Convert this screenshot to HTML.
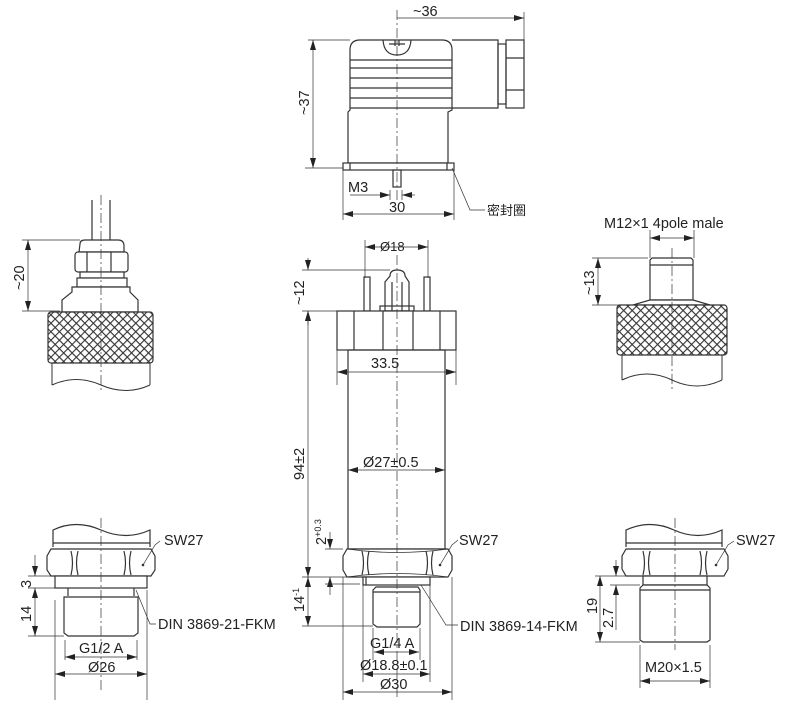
<!DOCTYPE html>
<html><head><meta charset="utf-8"><style>
html,body{margin:0;padding:0;background:#fff;}
svg{display:block;}
text{font-family:"Liberation Sans","Noto Sans CJK SC",sans-serif;font-size:14.5px;fill:#222;}
</style></head><body>
<svg width="800" height="710" viewBox="0 0 800 710" xmlns="http://www.w3.org/2000/svg">
<defs>
<marker id="a" viewBox="0 0 10 6" refX="10" refY="3" markerWidth="10" markerHeight="6" orient="auto-start-reverse" markerUnits="userSpaceOnUse"><path d="M0,0L10,3L0,6Z" fill="#222"/></marker>
<pattern id="k" width="6" height="6" patternUnits="userSpaceOnUse" patternTransform="rotate(45)">
<rect width="6" height="6" fill="#fff"/><path d="M0,0H6M0,0V6" stroke="#333" stroke-width="2.2"/></pattern>
</defs>
<g fill="none" stroke="#333" stroke-width="1.2">
<path d="M350,50 Q350,40 360,40 L442,40 Q452,40 452,50 L452,110 L448,112 L448,163 L348,163 L348,112 L350,110 Z" fill="#fff"/>
<path d="M350,60H452M350,68H452M350,78H452M350,88H452M350,98H452M350,108H452"/>
<path d="M383,40 Q384,55 397,55 Q410,55 411,40"/>
<path d="M389,44H405M395,40V46M399,40V46"/>
<path d="M452,40H498V108H452"/>
<rect x="498" y="44" width="8" height="60"/>
<rect x="506" y="40" width="18" height="68"/>
<path d="M506,58H524M506,90H524"/>
<rect x="343" y="163" width="111" height="7" fill="#fff"/>
<path d="M350,163V170M447,163V170"/>
<rect x="393" y="170" width="8" height="17"/>
</g>
<g stroke="#333" stroke-width="0.7" fill="none">
<path d="M397,10V200" stroke-dasharray="10,3,2,3"/>
<path d="M397,18H524" marker-end="url(#a)"/>
<path d="M524,12V42"/>
<path d="M313,40V168" marker-start="url(#a)" marker-end="url(#a)"/>
<path d="M308,40H350M305,168H343"/>
<path d="M343,170V220M454,170V220"/>
<path d="M350,195H390" marker-end="url(#a)"/><path d="M415,195H402" marker-end="url(#a)"/>
<path d="M390,190V200M402,190V200"/>
<path d="M343,214H454" marker-start="url(#a)" marker-end="url(#a)"/>
<path d="M452,168L470,210H485"/>
</g>
<text x="348" y="192">M3</text>
<text x="389" y="212">30</text>
<text x="413" y="16">~36</text>
<text transform="translate(309,115) rotate(-90)">~37</text>
<text x="487" y="215" style="font-size:13px">密封圈</text>

<g fill="none" stroke="#333" stroke-width="1.2">
<path d="M390,276 Q390,270 397,270 Q405,270 405,276 L409,282 V311 H385 V282 Z" fill="#fff"/>
<path d="M392,282V311M402,282V311"/>
<rect x="364" y="277" width="6" height="34"/>
<rect x="424" y="277" width="6" height="34"/>
<rect x="380" y="306" width="34" height="5"/>
<rect x="337" y="311" width="119" height="39" fill="#fff"/>
<path d="M354,311V350M383,311V350M413,311V350M440,311V350"/>
<rect x="348" y="350" width="97" height="199"/>
<path d="M347,549 L448,549 L452,556 L452,570 L448,577 L347,577 L343,570 L343,556 Z" fill="#fff"/>
<path d="M362,551 Q365,563 362,575 M369,551 Q366,563 369,575 M426,551 Q429,563 426,575 M433,551 Q430,563 433,575"/>
<path d="M347,549 Q397,556 448,549 M347,577 Q397,570 448,577" stroke-width="0.8"/>
<rect x="363" y="577" width="67" height="8" fill="#fff"/>
<path d="M366,577V585"/>
<path d="M376,587 H418 L420,590 V624 L417,627 H377 L373,624 V590 Z" fill="#fff"/>
<path d="M373,592H420"/>
</g>
<g stroke="#333" stroke-width="0.7" fill="none">
<path d="M397,255V700" stroke-dasharray="10,3,2,3"/>
<path d="M365,240V278M428,240V278"/>
<path d="M365,247H428" marker-start="url(#a)" marker-end="url(#a)"/>
<path d="M302,270H390M302,311H337"/>
<path d="M308,258V270" marker-end="url(#a)"/><path d="M308,325V311" marker-end="url(#a)"/>
<path d="M308,311V577" marker-start="url(#a)" marker-end="url(#a)"/>
<path d="M337,350V385M456,350V385"/>
<path d="M337,372H456" marker-start="url(#a)" marker-end="url(#a)"/>
<path d="M348,470H445" marker-start="url(#a)" marker-end="url(#a)"/>
<path d="M330,532V549" marker-end="url(#a)"/><path d="M330,595V577" marker-end="url(#a)"/>
<path d="M325,549H343M302,577H363M325,584H360M302,626H373"/>
<path d="M308,577V626" marker-start="url(#a)" marker-end="url(#a)"/>
<path d="M373,628V660M420,628V660M363,585V682M430,585V682M343,577V700M452,577V700"/>
<path d="M374,652H419" marker-start="url(#a)" marker-end="url(#a)"/>
<path d="M363,674H430" marker-start="url(#a)" marker-end="url(#a)"/>
<path d="M343,692H452" marker-start="url(#a)" marker-end="url(#a)"/>
<path d="M440,565L452,545L458,540"/>
<path d="M421,585L446,625H458"/>
</g>
<circle cx="440" cy="565" r="1.3" fill="#333"/>
<text x="380" y="251" style="font-size:13px">Ø18</text>
<text x="371" y="368">33.5</text>
<text x="363" y="467">Ø27±0.5</text>
<text transform="translate(304,480) rotate(-90)">94±2</text>
<text transform="translate(304,305) rotate(-90)">~12</text>
<text transform="translate(326,545) rotate(-90)">2<tspan dy="-5" style="font-size:9px">+0.3</tspan></text>
<text transform="translate(304,612) rotate(-90)">14<tspan dy="-5" style="font-size:9px">-1</tspan></text>
<text x="370" y="648">G1/4 A</text>
<text x="360" y="670">Ø18.8±0.1</text>
<text x="380" y="689">Ø30</text>
<text x="459" y="545">SW27</text>
<text x="460" y="631">DIN 3869-14-FKM</text>

<g fill="none" stroke="#333" stroke-width="1.2">
<path d="M92,200V240M110,200V240"/>
<path d="M80,244 Q80,240 85,240 H118 Q124,240 124,246 V252 H79 Z" fill="#fff"/>
<rect x="75" y="252" width="53" height="20" rx="3" fill="#fff"/>
<path d="M87,252V272M111,252V272"/>
<rect x="80" y="272" width="44" height="6" fill="#fff"/>
<rect x="77" y="278" width="50" height="9" fill="#fff"/>
<path d="M72,287H130V292L138,300V312H62V300L72,292Z" fill="#fff"/>
<rect x="48" y="312" width="105" height="51" rx="3" fill="url(#k)"/>
<path d="M52,363V385 M150,363V385 M52,385 Q76,374 101,385 Q126,396 150,385" stroke-width="1"/>
</g>
<g stroke="#333" stroke-width="0.7" fill="none">
<path d="M101,195V390" stroke-dasharray="10,3,2,3"/>
<path d="M22,240H80M22,311H60"/>
<path d="M28,240V311" marker-start="url(#a)" marker-end="url(#a)"/>
</g>
<text transform="translate(24,290) rotate(-90)">~20</text>

<g fill="none" stroke="#333" stroke-width="1.2">
<path d="M650,260 L652,258 H691 L693,260 V300 H650 Z" fill="#fff"/>
<path d="M650,265H693"/>
<path d="M650,300 H693 L710,305 H633 Z" fill="#fff"/>
<rect x="617" y="305" width="110" height="50" rx="3" fill="url(#k)"/>
<path d="M622,355V380 M722,355V380 M622,380 Q647,368 672,380 Q697,392 722,380" stroke-width="1"/>
</g>
<g stroke="#333" stroke-width="0.7" fill="none">
<path d="M672,248V390" stroke-dasharray="10,3,2,3"/>
<path d="M650,230V258M694,230V258"/>
<path d="M650,238H694" marker-start="url(#a)" marker-end="url(#a)"/>
<path d="M592,258H648M592,305H633"/>
<path d="M598,258V305" marker-start="url(#a)" marker-end="url(#a)"/>
</g>
<text x="604" y="228">M12×1 4pole male</text>
<text transform="translate(594,295) rotate(-90)">~13</text>

<g fill="none" stroke="#333" stroke-width="1.2">
<path d="M53,547V530 Q76,519 101,530 Q126,541 150,530 V547"/>
<path d="M53,543H150"/>
<path d="M51,549 L151,549 L155,556 L155,570 L151,576 L51,576 L47,570 L47,556 Z" fill="#fff"/>
<path d="M71,551Q74,563 71,575 M78,551Q75,563 78,575 M124,551Q127,563 124,575 M131,551Q128,563 131,575"/>
<rect x="55" y="576" width="92" height="12" fill="#fff"/>
<path d="M68,588V596 M134,588V596"/>
<path d="M64,597 H138 V633 L134,636 H68 L64,633 Z" fill="#fff"/>
</g>
<g stroke="#333" stroke-width="0.7" fill="none">
<path d="M101,518V690" stroke-dasharray="10,3,2,3"/>
<path d="M28,576H55M28,588H60M28,636H64"/>
<path d="M35,555V576" marker-end="url(#a)"/>
<path d="M35,588V636" marker-start="url(#a)" marker-end="url(#a)"/>
<path d="M55,600V700M147,590V700M65,640V660M137,640V660"/>
<path d="M65,657H137" marker-start="url(#a)" marker-end="url(#a)"/>
<path d="M55,674H147" marker-start="url(#a)" marker-end="url(#a)"/>
<path d="M143,565L155,545L160,541"/>
<path d="M136,590L150,624H156"/>
</g>
<circle cx="143" cy="565" r="1.3" fill="#333"/>
<text transform="translate(31,588) rotate(-90)">3</text>
<text transform="translate(31,622) rotate(-90)">14</text>
<text x="164" y="545">SW27</text>
<text x="158" y="629">DIN 3869-21-FKM</text>
<text x="79" y="653">G1/2 A</text>
<text x="88" y="672">Ø26</text>

<g fill="none" stroke="#333" stroke-width="1.2">
<path d="M626,547V530 Q650,519 674,530 Q698,541 722,530 V547"/>
<path d="M626,543H722"/>
<path d="M626,549 L724,549 L728,556 L728,569 L724,576 L626,576 L622,569 L622,556 Z" fill="#fff"/>
<path d="M643,551Q646,563 643,575 M650,551Q647,563 650,575 M700,551Q703,563 700,575 M707,551Q704,563 707,575"/>
<path d="M643,576 H707 V585 H643 Z" fill="#fff"/>
<path d="M640,588 L643,585 H707 L710,588 V640 L707,642 H643 L640,640 Z" fill="#fff"/>
<path d="M640,590H710"/>
</g>
<g stroke="#333" stroke-width="0.7" fill="none">
<path d="M675,518V650" stroke-dasharray="10,3,2,3"/>
<path d="M595,576H643M610,585H640M595,642H640"/>
<path d="M600,576V642" marker-start="url(#a)" marker-end="url(#a)"/>
<path d="M616,560V576" marker-end="url(#a)"/><path d="M616,630V585" marker-end="url(#a)"/>
<path d="M640,645V688M710,645V688"/>
<path d="M640,681H710" marker-start="url(#a)" marker-end="url(#a)"/>
<path d="M716,565L728,545L734,541"/>
</g>
<circle cx="716" cy="565" r="1.3" fill="#333"/>
<text x="736" y="545">SW27</text>
<text transform="translate(597,614) rotate(-90)">19</text>
<text transform="translate(613,628) rotate(-90)">2.7</text>
<text x="645" y="672">M20×1.5</text>
</svg>
</body></html>
